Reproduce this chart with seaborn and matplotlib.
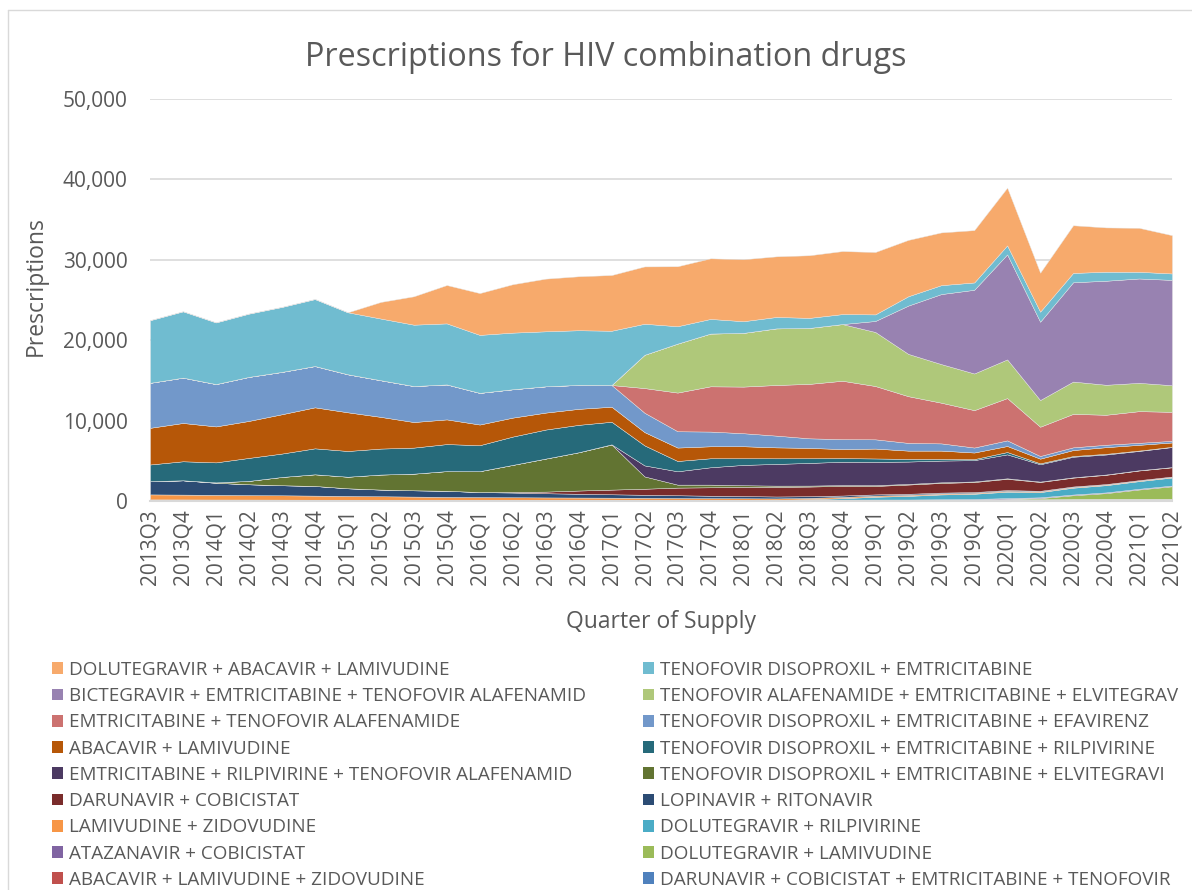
import numpy as np
import matplotlib
matplotlib.use("Agg")
import matplotlib.pyplot as plt
from matplotlib.patches import Patch
from matplotlib.lines import Line2D
import seaborn as sns

quarters = ["2013Q3", "2013Q4",
            "2014Q1", "2014Q2", "2014Q3", "2014Q4",
            "2015Q1", "2015Q2", "2015Q3", "2015Q4",
            "2016Q1", "2016Q2", "2016Q3", "2016Q4",
            "2017Q1", "2017Q2", "2017Q3", "2017Q4",
            "2018Q1", "2018Q2", "2018Q3", "2018Q4",
            "2019Q1", "2019Q2", "2019Q3", "2019Q4",
            "2020Q1", "2020Q2", "2020Q3", "2020Q4",
            "2021Q1", "2021Q2"]

# series, top of the stack first (legend order)
dol_abc_3tc = [0, 0, 0, 0, 0, 0, 0, 2070, 3530, 4770, 5200, 6020, 6550, 6710, 6930, 7130,
               7460, 7540, 7710, 7540, 7790, 7840, 7760, 7010, 6560, 6510, 7180, 4850, 5930, 5510, 5470, 4760]
tdf_ftc = [7790, 8250, 7670, 7870, 8080, 8330, 7710, 7670, 7630, 7590, 7210, 7040, 6840, 6800, 6750, 3860,
           2160, 1820, 1450, 1420, 1250, 1240, 820, 1160, 1110, 910, 1120, 1250, 1160, 1120, 830, 800]
bic_ftc_taf = [0, 0, 0, 0, 0, 0, 0, 0, 0, 0, 0, 0, 0, 0, 0, 0,
               0, 0, 0, 0, 0, 0, 1370, 6010, 8710, 10410, 13060, 9740, 12350, 12940, 12980, 13100]
taf_ftc_evg = [0, 0, 0, 0, 0, 0, 0, 0, 0, 0, 0, 0, 0, 0, 0, 4140,
               6090, 6560, 6680, 7040, 6960, 7050, 6720, 5260, 4800, 4560, 4810, 3320, 4020, 3730, 3520, 3310]
ftc_taf = [0, 0, 0, 0, 0, 0, 0, 0, 0, 0, 0, 0, 0, 0, 0, 3070,
           4810, 5630, 5800, 6300, 6770, 7260, 6630, 5810, 5060, 4650, 5260, 3640, 4160, 3730, 3940, 3610]
tdf_ftc_efv = [5600, 5640, 5270, 5480, 5270, 5140, 4730, 4560, 4480, 4350, 3940, 3530, 3270, 2980, 2700, 2410,
               2030, 1830, 1620, 1460, 1190, 1240, 1150, 960, 900, 620, 700, 330, 340, 300, 250, 200]
abc_3tc = [4560, 4765, 4470, 4600, 4890, 5100, 4810, 3940, 3180, 3070, 2570, 2360, 2110, 1990, 1870, 1650,
           1670, 1490, 1490, 1360, 1290, 1120, 1230, 1030, 1030, 820, 750, 580, 740, 830, 710, 540]
tdf_ftc_rpv = [2070, 2365, 2490, 2860, 2910, 3230, 3200, 3230, 3240, 3360, 3230, 3520, 3610, 3410, 2810, 2490,
               1280, 1120, 830, 700, 580, 455, 420, 330, 210, 130, 290, 120, 90, 80, 50, 30]
ftc_rpv_taf = [0, 0, 0, 0, 0, 0, 0, 0, 0, 0, 0, 0, 0, 0, 30, 1370,
               1660, 2160, 2530, 2700, 2820, 2900, 2900, 2780, 2700, 2650, 2980, 2150, 2560, 2490, 2400, 2490]
tdf_ftc_evg = [0, 0, 50, 420, 1030, 1450, 1440, 1870, 2070, 2450, 2600, 3360, 4110, 4760, 5600, 1530,
               370, 330, 200, 150, 120, 100, 100, 80, 80, 70, 60, 50, 40, 40, 30, 30]
drv_cobi = [0, 0, 0, 0, 0, 0, 0, 0, 0, 0, 0, 80, 200, 400, 580, 750,
            950, 1050, 1150, 1200, 1200, 1200, 1050, 1150, 1200, 1250, 1400, 1100, 1100, 1150, 1200, 1150]
lpv_rtv = [1650, 1780, 1500, 1340, 1250, 1200, 950, 830, 780, 760, 620, 580, 520, 470, 420, 380,
           340, 300, 270, 240, 210, 180, 150, 130, 110, 100, 90, 70, 60, 50, 45, 40]
tc3_zdv = [620, 600, 580, 560, 540, 510, 480, 450, 420, 390, 360, 330, 300, 280, 260, 240,
           220, 200, 185, 170, 160, 150, 140, 130, 120, 110, 110, 90, 90, 85, 80, 80]
dtg_rpv = [0, 0, 0, 0, 0, 0, 0, 0, 0, 0, 0, 0, 0, 0, 0, 0,
           0, 0, 0, 0, 60, 180, 350, 450, 600, 650, 800, 650, 850, 900, 950, 1000]
atv_cobi = [0, 0, 0, 0, 0, 0, 0, 0, 0, 0, 20, 40, 50, 60, 70, 75,
            80, 85, 90, 90, 90, 90, 90, 90, 90, 90, 90, 90, 90, 90, 90, 90]
dtg_3tc = [0, 0, 0, 0, 0, 0, 0, 0, 0, 0, 0, 0, 0, 0, 0, 0,
           0, 0, 0, 0, 0, 0, 0, 0, 0, 0, 30, 150, 450, 700, 1150, 1550]
abc_3tc_zdv = [200, 195, 185, 180, 170, 160, 150, 140, 130, 120, 110, 100, 95, 90, 85, 80,
               75, 70, 65, 60, 55, 50, 50, 45, 45, 40, 40, 35, 35, 30, 30, 30]
drv_cobi_ftc_taf = [0, 0, 0, 0, 0, 0, 0, 0, 0, 0, 0, 0, 0, 0, 0, 0,
                    0, 0, 0, 0, 20, 30, 40, 50, 80, 120, 200, 180, 230, 250, 250, 250]

labels = ["DOLUTEGRAVIR + ABACAVIR + LAMIVUDINE",
          "TENOFOVIR DISOPROXIL + EMTRICITABINE",
          "BICTEGRAVIR + EMTRICITABINE + TENOFOVIR ALAFENAMID",
          "TENOFOVIR ALAFENAMIDE + EMTRICITABINE + ELVITEGRAV",
          "EMTRICITABINE + TENOFOVIR ALAFENAMIDE",
          "TENOFOVIR DISOPROXIL + EMTRICITABINE + EFAVIRENZ",
          "ABACAVIR + LAMIVUDINE",
          "TENOFOVIR DISOPROXIL + EMTRICITABINE + RILPIVIRINE",
          "EMTRICITABINE + RILPIVIRINE + TENOFOVIR ALAFENAMID",
          "TENOFOVIR DISOPROXIL + EMTRICITABINE + ELVITEGRAVI",
          "DARUNAVIR + COBICISTAT",
          "LOPINAVIR + RITONAVIR",
          "LAMIVUDINE + ZIDOVUDINE",
          "DOLUTEGRAVIR + RILPIVIRINE",
          "ATAZANAVIR + COBICISTAT",
          "DOLUTEGRAVIR + LAMIVUDINE",
          "ABACAVIR + LAMIVUDINE + ZIDOVUDINE",
          "DARUNAVIR + COBICISTAT + EMTRICITABINE + TENOFOVIR"]

series = [dol_abc_3tc, tdf_ftc, bic_ftc_taf, taf_ftc_evg, ftc_taf, tdf_ftc_efv, abc_3tc,
          tdf_ftc_rpv, ftc_rpv_taf, tdf_ftc_evg, drv_cobi, lpv_rtv, tc3_zdv, dtg_rpv,
          atv_cobi, dtg_3tc, abc_3tc_zdv, drv_cobi_ftc_taf]

colors = ["#F7AA6C", "#70BCD0", "#9882B1", "#AFC87A", "#CC7270", "#7298CA",
          "#B65708", "#266A7A", "#4C3A62", "#627432", "#7A2C2B", "#2C4C74",
          "#F79646", "#4BACC6", "#8064A2", "#9BBB59", "#C0504D", "#4F81BD"]

sns.set_theme(style="white")
plt.rcParams["font.family"] = ["Open Sans", "DejaVu Sans"]
grey = "#595959"

fig = plt.figure(figsize=(11.92, 8.9), dpi=100)
ax = fig.add_axes([150 / 1192, 1 - 501 / 890, 1022 / 1192, 402 / 890])

x = np.arange(len(quarters))
# stack bottom-up: reverse of the legend order
ax.stackplot(x, *series[::-1], colors=colors[::-1], linewidth=0.3, edgecolor="#E6E6E6")

ax.set_xlim(0, len(quarters) - 1)
ax.set_ylim(0, 50000)
ax.set_yticks(range(0, 50001, 10000))
ax.set_yticklabels([f"{v:,}" for v in range(0, 50001, 10000)])
ax.set_xticks(x)
ax.set_xticklabels(quarters, rotation=90)
ax.tick_params(axis="y", length=0, pad=16, labelsize=15, labelcolor=grey)
ax.tick_params(axis="x", length=0, pad=6, labelsize=15, labelcolor=grey)

ax.grid(axis="y", color="#D9D9D9", linewidth=1.2)
ax.set_axisbelow(True)
for s in ["top", "right", "left"]:
    ax.spines[s].set_visible(False)
ax.spines["bottom"].set_color("#D9D9D9")
ax.spines["bottom"].set_linewidth(1.5)

ax.set_xlabel("Quarter of Supply", fontsize=16.5, color=grey)
ax.xaxis.set_label_coords(0.5, -0.27)
ax.set_ylabel("Prescriptions", fontsize=16.5, color=grey)
ax.yaxis.set_label_coords(-0.100, 0.535)

fig.text(0.508, 1 - 57 / 890, "Prescriptions for HIV combination drugs",
         ha="center", va="center", fontsize=23.3, color=grey)

# legend filled row by row in the reference, matplotlib fills column by column
handles = [Patch(facecolor=c, edgecolor="none") for c in colors]
order = list(range(0, 18, 2)) + list(range(1, 18, 2))
fig.legend([handles[i] for i in order], [labels[i] for i in order],
           loc="upper left", bbox_to_anchor=(52 / 1192, 1 - 661 / 890),
           ncol=2, frameon=False, fontsize=13.6, labelcolor=grey,
           handlelength=0.58, handleheight=0.58, handletextpad=0.34,
           labelspacing=0.435, columnspacing=3.0, borderpad=0, borderaxespad=0)

# chart area border
fig.add_artist(Line2D([8 / 1192, 8 / 1192], [0, 1 - 10 / 890], transform=fig.transFigure,
                      color="#D9D9D9", linewidth=1))
fig.add_artist(Line2D([8 / 1192, 1], [1 - 10 / 890, 1 - 10 / 890], transform=fig.transFigure,
                      color="#D9D9D9", linewidth=1))

fig.savefig("out.png", dpi=100)
